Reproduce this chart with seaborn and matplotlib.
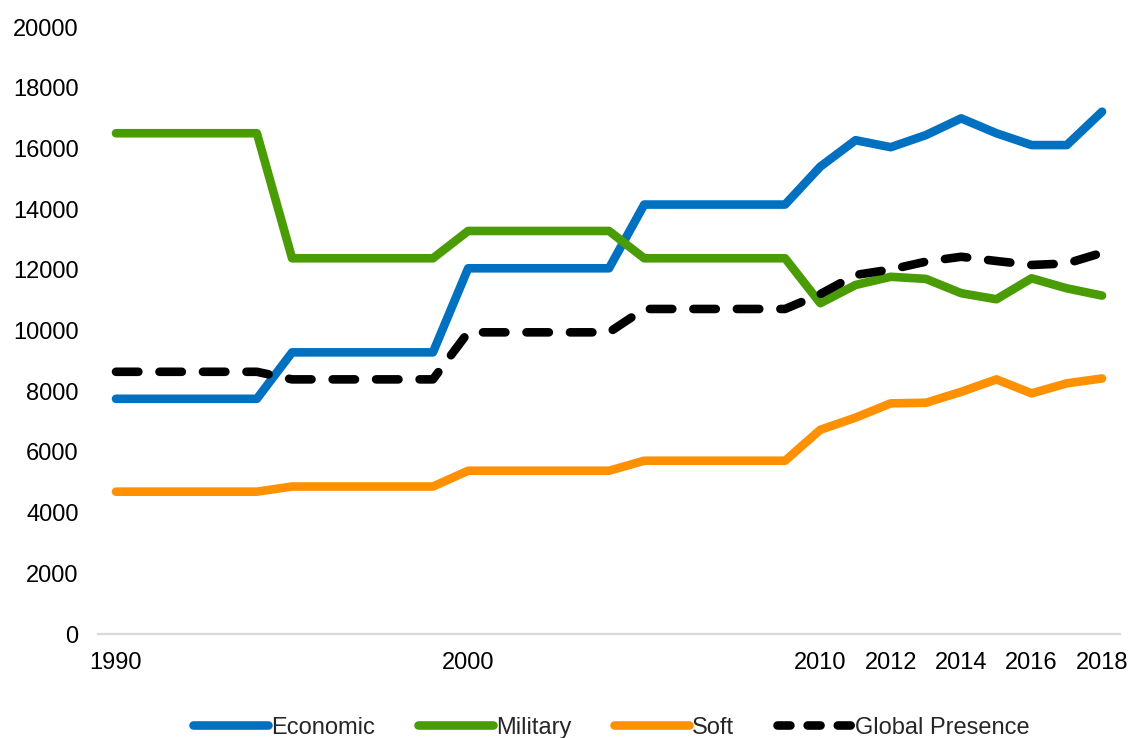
import matplotlib
matplotlib.use("Agg")
import matplotlib.pyplot as plt
import seaborn as sns
import pandas as pd
from matplotlib.lines import Line2D

years = list(range(1990, 2019))
economic = [7750]*5 + [9280]*5 + [12050]*5 + [14150]*5 + [15400, 16270, 16040, 16440, 16990, 16500, 16110, 16110, 17210]
military = [16500]*5 + [12380]*5 + [13280]*5 + [12380]*5 + [10900, 11500, 11770, 11700, 11230, 11030, 11720, 11390, 11150]
soft = [4690]*5 + [4860]*5 + [5380]*5 + [5710]*5 + [6730, 7130, 7600, 7620, 7980, 8390, 7930, 8260, 8420]
global_presence = [8640]*5 + [8390]*5 + [9940]*5 + [10710]*5 + [11200, 11830, 12010, 12270, 12430, 12290, 12160, 12210, 12560]

series_names = ["Economic", "Military", "Soft", "Global Presence"]
colors = {"Economic": "#0070C0", "Military": "#4A9C05", "Soft": "#FF9000", "Global Presence": "#000000"}
tick_years = [1990, 2000, 2010, 2012, 2014, 2016, 2018]
y_ticks = list(range(0, 20001, 2000))

df = pd.DataFrame({
    "Year": years * 4,
    "Value": economic + military + soft + global_presence,
    "Series": sum([[n] * len(years) for n in series_names], []),
})

sns.set_theme(style="white")
plt.rcParams["font.family"] = ["Liberation Sans", "DejaVu Sans"]

fig = plt.figure(figsize=(11.32, 7.38), dpi=100)
ax = fig.add_axes([0.0866, 0.1409, 0.9028, 0.8225])

lw = 6.2
dash_seq = {"Economic": "", "Military": "", "Soft": "", "Global Presence": (2.6, 2.45)}
sns.lineplot(data=df, x="Year", y="Value", hue="Series", style="Series",
             palette=colors, dashes=dash_seq, linewidth=lw, ax=ax, legend=False,
             hue_order=series_names, style_order=series_names)
for ln in ax.get_lines():
    ln.set_solid_capstyle("round")
    ln.set_dash_capstyle("round")
    ln.set_solid_joinstyle("round")
    ln.set_dash_joinstyle("round")

ax.set_xlim(1989.49, 2018.51)
ax.set_ylim(0, 20000)
ax.set_xticks(tick_years)
ax.set_xticklabels([str(t) for t in tick_years])
ax.set_yticks(y_ticks)
ax.set_yticklabels([str(t) for t in y_ticks])
ax.set_xlabel("")
ax.set_ylabel("")
for s in ["top", "right", "left"]:
    ax.spines[s].set_visible(False)
ax.spines["bottom"].set_color("#D9D9D9")
ax.spines["bottom"].set_linewidth(1.6)
ax.tick_params(axis="both", length=0, labelsize=17, colors="#000000")
ax.tick_params(axis="y", pad=14)
ax.tick_params(axis="x", pad=13)
ax.grid(False)

handles = []
for n in series_names:
    h = Line2D([0], [0], color=colors[n], linewidth=lw,
               linestyle=(0, (1.5, 2.0)) if n == "Global Presence" else "-",
               solid_capstyle="round", dash_capstyle="round")
    handles.append(h)
fig.legend(handles, series_names, loc="center", bbox_to_anchor=(0.54, 0.014),
           ncol=4, frameon=False, fontsize=17, handlelength=3.2,
           handletextpad=0.12, columnspacing=1.8)

fig.savefig("out.png", dpi=100)
